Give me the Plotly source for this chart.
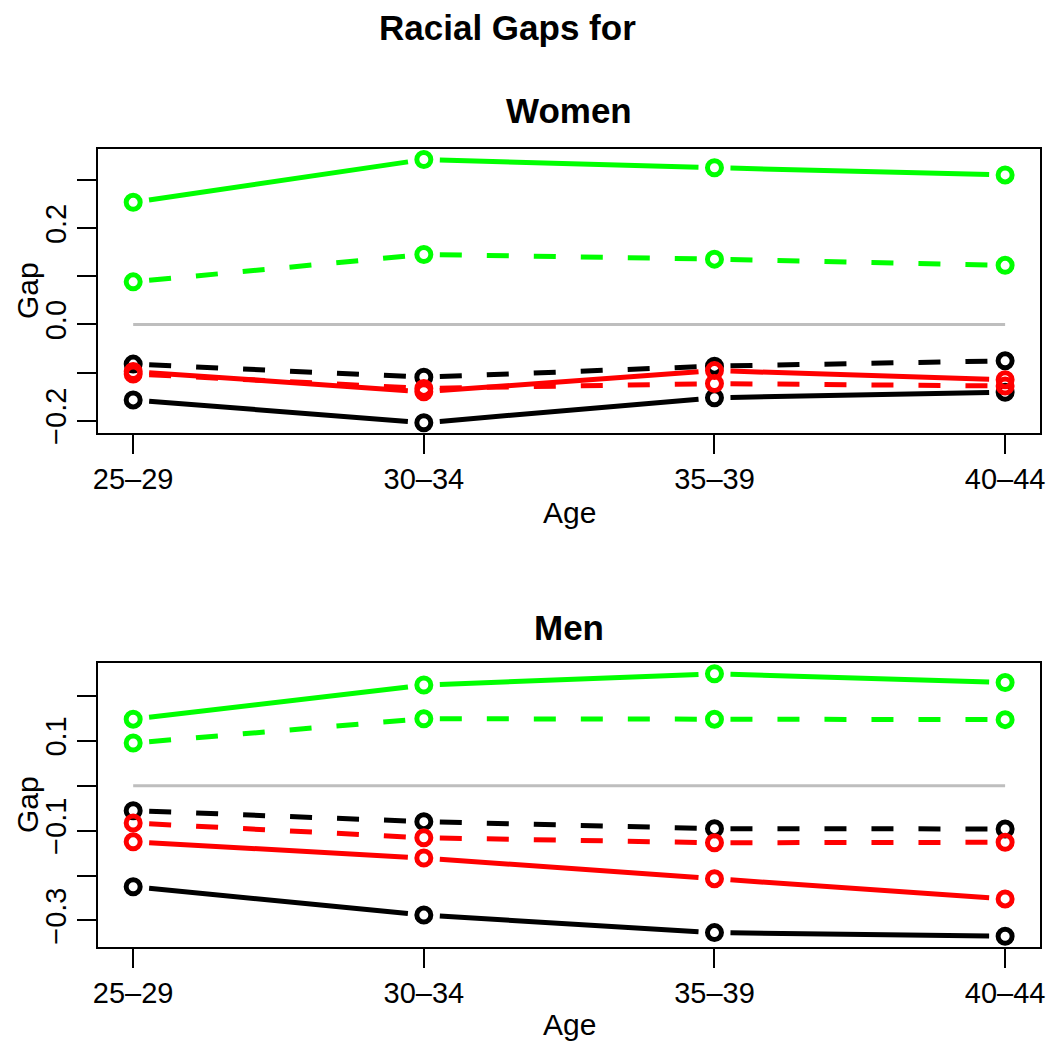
import math
import plotly.graph_objects as go

# ---------------- data ----------------
ages = ["25\u201329", "30\u201334", "35\u201339", "40\u201344"]
age_pos = [1, 2, 3, 4]

women_black_solid = [-0.157, -0.2045, -0.1525, -0.141]
women_black_dashed = [-0.0825, -0.1096, -0.0867, -0.0757]
women_red_solid = [-0.098, -0.140, -0.096, -0.115]
women_red_dashed = [-0.103, -0.133, -0.123, -0.128]
women_green_solid = [0.254, 0.343, 0.326, 0.311]
women_green_dashed = [0.0886, 0.1455, 0.1358, 0.123]

men_black_solid = [-0.225, -0.288, -0.327, -0.335]
men_black_dashed = [-0.0556, -0.080, -0.0956, -0.0963]
men_red_solid = [-0.125, -0.161, -0.207, -0.252]
men_red_dashed = [-0.083, -0.116, -0.127, -0.126]
men_green_solid = [0.148, 0.224, 0.249, 0.2296]
men_green_dashed = [0.095, 0.149, 0.148, 0.147]

women_ticks = [-0.2, -0.1, 0.0, 0.1, 0.2, 0.3]
women_ticktext = ["\u22120.2", "", "0.0", "", "0.2", ""]
men_ticks = [-0.3, -0.2, -0.1, 0.0, 0.1, 0.2]
men_ticktext = ["\u22120.3", "", "\u22120.1", "", "0.1", ""]

# ---------------- layout geometry ----------------
W, H = 1053, 1041
LEFT, RIGHT = 98.3, 1040.0
TOP1, BOT1 = 149.0, 433.3
TOP2, BOT2 = 663.3, 946.7

FONT = "Liberation Sans, Arial, Helvetica, sans-serif"
GREEN, RED, BLACK, GRAY = "#00FF00", "#FF0000", "#000000", "#BEBEBE"


def rrange(vals):
    lo, hi = min(vals), max(vals)
    s = hi - lo
    return [lo - 0.04 * s, hi + 0.04 * s]


xr = rrange(age_pos)


def seg(xs, ys, yr, hpx, gap=16.0):
    sx = (RIGHT - LEFT) / (xr[1] - xr[0])
    sy = hpx / (yr[1] - yr[0])
    ox, oy = [], []
    for i in range(len(xs) - 1):
        dx = (xs[i + 1] - xs[i]) * sx
        dy = (ys[i + 1] - ys[i]) * sy
        L = math.hypot(dx, dy)
        f = gap / L
        ox += [xs[i] + (xs[i + 1] - xs[i]) * f, xs[i + 1] - (xs[i + 1] - xs[i]) * f, None]
        oy += [ys[i] + (ys[i + 1] - ys[i]) * f, ys[i + 1] - (ys[i + 1] - ys[i]) * f, None]
    return ox, oy


fig = go.Figure()

panels = [
    ("x", "y", TOP1, BOT1, [
        (women_black_solid, BLACK, "solid"),
        (women_black_dashed, BLACK, "dash"),
        (women_red_solid, RED, "solid"),
        (women_red_dashed, RED, "dash"),
        (women_green_solid, GREEN, "solid"),
        (women_green_dashed, GREEN, "dash"),
    ]),
    ("x2", "y2", TOP2, BOT2, [
        (men_black_solid, BLACK, "solid"),
        (men_black_dashed, BLACK, "dash"),
        (men_red_solid, RED, "solid"),
        (men_red_dashed, RED, "dash"),
        (men_green_solid, GREEN, "solid"),
        (men_green_dashed, GREEN, "dash"),
    ]),
]

yranges = []
for xa, ya, top, bot, series in panels:
    allv = [v for s, _, _ in series for v in s] + [0.0]
    yr = rrange(allv)
    yranges.append(yr)
    hpx = bot - top
    # zero reference line
    fig.add_trace(go.Scatter(x=[age_pos[0], age_pos[-1]], y=[0, 0], mode="lines",
                             line=dict(color=GRAY, width=3), xaxis=xa, yaxis=ya,
                             showlegend=False, hoverinfo="skip"))
    for vals, col, dash in series:
        sxv, syv = seg(age_pos, vals, yr, hpx)
        fig.add_trace(go.Scatter(x=sxv, y=syv, mode="lines",
                                 line=dict(color=col, width=5,
                                           dash="solid" if dash == "solid" else "22px,25px"),
                                 xaxis=xa, yaxis=ya, showlegend=False, hoverinfo="skip"))
        fig.add_trace(go.Scatter(x=age_pos, y=vals, mode="markers",
                                 marker=dict(symbol="circle-open", size=14, color=col,
                                             line=dict(width=5, color=col)),
                                 xaxis=xa, yaxis=ya, showlegend=False))

axis_common = dict(showgrid=False, zeroline=False, showline=True, mirror=True,
                   linecolor="black", linewidth=2, ticks="outside", ticklen=19,
                   tickwidth=2, tickcolor="black", automargin=False,
                   tickfont=dict(family=FONT, size=29, color="black"))

xdom = [LEFT / W, RIGHT / W]
fig.update_layout(
    width=W, height=H, margin=dict(l=0, r=0, t=0, b=0, pad=0),
    paper_bgcolor="white", plot_bgcolor="white",
    xaxis=dict(domain=xdom, range=xr, tickvals=age_pos, ticktext=ages, anchor="y", **axis_common),
    yaxis=dict(domain=[1 - BOT1 / H, 1 - TOP1 / H], range=yranges[0], tickvals=women_ticks,
               ticktext=women_ticktext, tickangle=-90, anchor="x", **axis_common),
    xaxis2=dict(domain=xdom, range=xr, tickvals=age_pos, ticktext=ages, anchor="y2", **axis_common),
    yaxis2=dict(domain=[1 - BOT2 / H, 1 - TOP2 / H], range=yranges[1], tickvals=men_ticks,
                ticktext=men_ticktext, tickangle=-90, anchor="x2", **axis_common),
)

def ann(text, xpx, ypx, size, bold=False, angle=0):
    fig.add_annotation(text=f"<b>{text}</b>" if bold else text, x=xpx / W, y=1 - ypx / H,
                       xref="paper", yref="paper", xanchor="center", yanchor="middle",
                       showarrow=False, textangle=angle,
                       font=dict(family=FONT, size=size, color="black"))

ann("Racial Gaps for", 507, 28, 35, bold=True)
ann("Women", 569, 111, 35, bold=True)
ann("Men", 569, 627, 35, bold=True)
ann("Age", 569, 512, 30)
ann("Age", 569, 1024, 30)
ann("Gap", 27, 291, 30, angle=-90)
ann("Gap", 27, 805, 30, angle=-90)

fig.write_html("out.html")
